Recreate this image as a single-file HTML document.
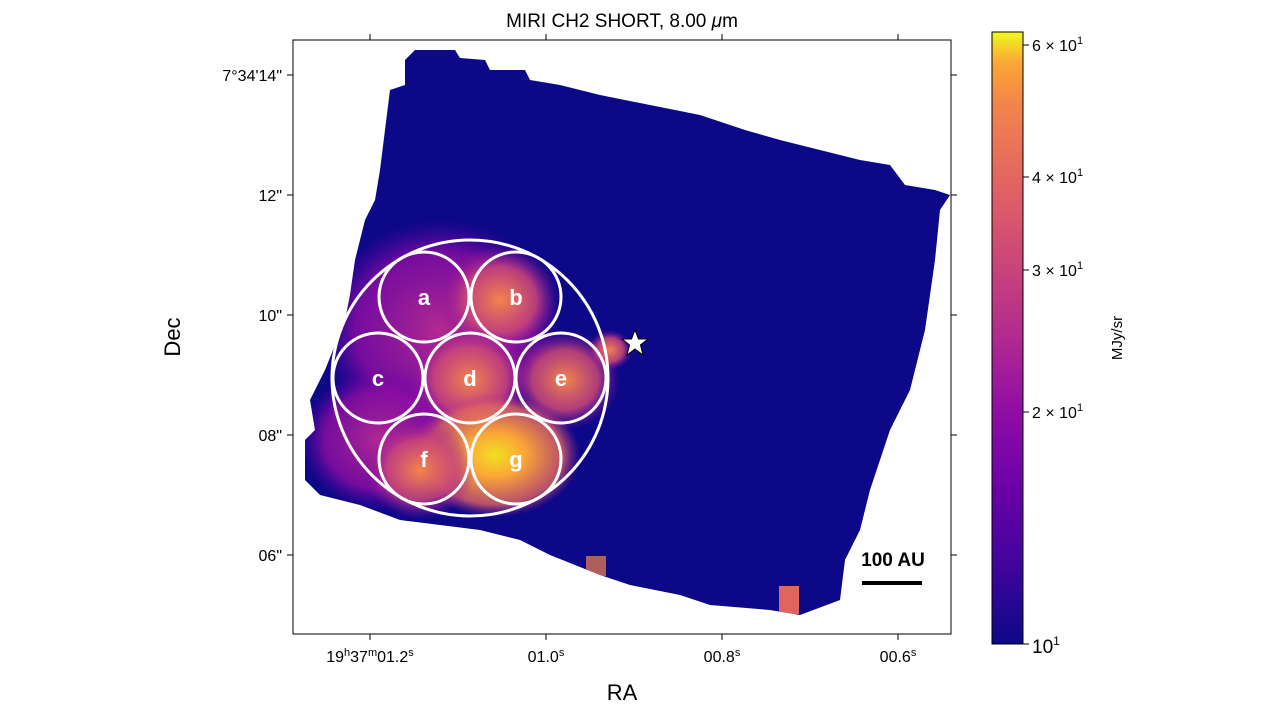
<!DOCTYPE html>
<html><head><meta charset="utf-8"><style>
body{margin:0;background:#fff;width:1279px;height:720px;overflow:hidden;font-family:"Liberation Sans","DejaVu Sans",sans-serif}
</style></head><body>
<svg width="1279" height="720" viewBox="0 0 1279 720" xmlns="http://www.w3.org/2000/svg" font-family="Liberation Sans, DejaVu Sans, sans-serif">
<defs>
<linearGradient id="cb" x1="0" y1="1" x2="0" y2="0">
<stop offset="0" stop-color="#0d0887"/><stop offset="0.13" stop-color="#41049d"/><stop offset="0.25" stop-color="#6a00a8"/><stop offset="0.38" stop-color="#8f0da4"/><stop offset="0.5" stop-color="#b12a90"/><stop offset="0.63" stop-color="#cc4778"/><stop offset="0.75" stop-color="#e16462"/><stop offset="0.88" stop-color="#f2844b"/><stop offset="0.95" stop-color="#fca636"/><stop offset="1" stop-color="#f0f921"/>
</linearGradient>
<radialGradient id="g1" cx="0.5" cy="0.5" r="0.5"><stop offset="0" stop-color="#f0e020"/><stop offset="0.35" stop-color="#fca636"/><stop offset="0.8" stop-color="#e16462" stop-opacity="0.8"/><stop offset="1" stop-color="#b12a90" stop-opacity="0"/></radialGradient>
<radialGradient id="g2" cx="0.5" cy="0.5" r="0.5"><stop offset="0" stop-color="#f2844b"/><stop offset="0.6" stop-color="#cc4778" stop-opacity="0.85"/><stop offset="1" stop-color="#8f0da4" stop-opacity="0"/></radialGradient>
<radialGradient id="g3" cx="0.5" cy="0.5" r="0.5"><stop offset="0" stop-color="#b12a90"/><stop offset="0.7" stop-color="#8f0da4" stop-opacity="0.8"/><stop offset="1" stop-color="#6a00a8" stop-opacity="0"/></radialGradient>
<clipPath id="cp"><polygon id="poly" points="405,60 415,50 455,50 460,58 485,60 490,70 525,70 530,80 560,85 600,95 650,105 700,115 745,130 780,140 820,150 860,160 890,165 905,185 935,190 950,195 940,210 935,260 925,330 910,390 890,430 880,460 870,490 860,530 845,560 840,600 800,615 770,610 710,605 680,595 630,585 600,575 550,555 520,540 480,530 440,525 400,520 360,505 320,495 305,480 305,440 315,430 310,400 325,370 335,345 345,320 350,295 355,260 360,240 365,220 375,200 380,170 385,130 390,90 405,85"/></clipPath>
</defs>
<text x="622" y="27" font-size="19" text-anchor="middle">MIRI CH2 SHORT, 8.00 <tspan font-style="italic">μ</tspan>m</text>
<polygon fill="#0d0887" points="405,60 415,50 455,50 460,58 485,60 490,70 525,70 530,80 560,85 600,95 650,105 700,115 745,130 780,140 820,150 860,160 890,165 905,185 935,190 950,195 940,210 935,260 925,330 910,390 890,430 880,460 870,490 860,530 845,560 840,600 800,615 770,610 710,605 680,595 630,585 600,575 550,555 520,540 480,530 440,525 400,520 360,505 320,495 305,480 305,440 315,430 310,400 325,370 335,345 345,320 350,295 355,260 360,240 365,220 375,200 380,170 385,130 390,90 405,85"/>
<g clip-path="url(#cp)">
<ellipse cx="440" cy="330" rx="120" ry="110" fill="url(#g3)"/>
<ellipse cx="380" cy="440" rx="80" ry="70" fill="url(#g3)"/>
<ellipse cx="500" cy="300" rx="60" ry="55" fill="url(#g2)"/>
<ellipse cx="470" cy="380" rx="60" ry="55" fill="url(#g2)"/>
<ellipse cx="565" cy="380" rx="55" ry="50" fill="url(#g2)"/>
<ellipse cx="610" cy="350" rx="22" ry="20" fill="url(#g2)"/>
<ellipse cx="495" cy="455" rx="85" ry="62" fill="url(#g1)"/>
<ellipse cx="420" cy="470" rx="55" ry="50" fill="url(#g2)"/>
<rect x="779" y="586" width="20" height="28" fill="#e16462"/>
<rect x="586" y="556" width="20" height="20" fill="#f2844b" opacity="0.7"/>
</g>
<g fill="none" stroke="#fff" stroke-width="3">
<circle cx="470" cy="378" r="138"/>
<circle cx="424" cy="297" r="45"/><circle cx="516" cy="297" r="45"/>
<circle cx="378" cy="378" r="45"/><circle cx="470" cy="378" r="45"/><circle cx="561" cy="378" r="45"/>
<circle cx="424" cy="459" r="45"/><circle cx="516" cy="459" r="45"/>
</g>
<g fill="#fff" font-size="22" font-weight="bold" text-anchor="middle">
<text x="424" y="305">a</text><text x="516" y="305">b</text><text x="378" y="386">c</text><text x="470" y="386">d</text><text x="561" y="386">e</text><text x="424" y="467">f</text><text x="516" y="467">g</text>
</g>
<polygon points="635,330 638.5,339 648,339 640.5,345 643,355 635,349 627,355 629.5,345 622,339 631.5,339" fill="#fff" stroke="#000" stroke-width="1"/>
<text x="893" y="566" font-size="19" font-weight="bold" text-anchor="middle">100 AU</text>
<line x1="862" y1="583" x2="922" y2="583" stroke="#000" stroke-width="4"/>
<rect x="293" y="40" width="658" height="594" fill="none" stroke="#000" stroke-width="1"/>
<g stroke="#000" stroke-width="1">
<line x1="370" y1="634" x2="370" y2="640"/><line x1="546" y1="634" x2="546" y2="640"/><line x1="722" y1="634" x2="722" y2="640"/><line x1="898" y1="634" x2="898" y2="640"/>
<line x1="370" y1="40" x2="370" y2="34"/><line x1="546" y1="40" x2="546" y2="34"/><line x1="722" y1="40" x2="722" y2="34"/><line x1="898" y1="40" x2="898" y2="34"/>
<line x1="293" y1="75" x2="287" y2="75"/><line x1="293" y1="195" x2="287" y2="195"/><line x1="293" y1="315" x2="287" y2="315"/><line x1="293" y1="435" x2="287" y2="435"/><line x1="293" y1="555" x2="287" y2="555"/>
<line x1="951" y1="75" x2="957" y2="75"/><line x1="951" y1="195" x2="957" y2="195"/><line x1="951" y1="315" x2="957" y2="315"/><line x1="951" y1="435" x2="957" y2="435"/><line x1="951" y1="555" x2="957" y2="555"/>
</g>
<g font-size="16" text-anchor="end">
<text x="282" y="81">7°34'14"</text><text x="282" y="201">12"</text><text x="282" y="321">10"</text><text x="282" y="441">08"</text><text x="282" y="561">06"</text>
</g>
<g font-size="16" text-anchor="middle">
<text x="370" y="662">19<tspan font-size="11" dy="-6">h</tspan><tspan dy="6">37</tspan><tspan font-size="11" dy="-6">m</tspan><tspan dy="6">01.2</tspan><tspan font-size="11" dy="-6">s</tspan></text>
<text x="546" y="662">01.0<tspan font-size="11" dy="-6">s</tspan></text>
<text x="722" y="662">00.8<tspan font-size="11" dy="-6">s</tspan></text>
<text x="898" y="662">00.6<tspan font-size="11" dy="-6">s</tspan></text>
</g>
<text x="622" y="700" font-size="22" text-anchor="middle">RA</text>
<text x="180" y="337" font-size="22" text-anchor="middle" transform="rotate(-90 180 337)">Dec</text>
<rect x="992" y="32" width="31" height="612" fill="url(#cb)" stroke="#000" stroke-width="1"/>
<g stroke="#000"><line x1="1023" y1="45" x2="1029" y2="45"/><line x1="1023" y1="177" x2="1029" y2="177"/><line x1="1023" y1="270" x2="1029" y2="270"/><line x1="1023" y1="412" x2="1029" y2="412"/><line x1="1023" y1="644" x2="1029" y2="644"/></g>
<g font-size="16">
<text x="1032" y="51">6 × 10<tspan font-size="11" dy="-7">1</tspan></text>
<text x="1032" y="183">4 × 10<tspan font-size="11" dy="-7">1</tspan></text>
<text x="1032" y="276">3 × 10<tspan font-size="11" dy="-7">1</tspan></text>
<text x="1032" y="418">2 × 10<tspan font-size="11" dy="-7">1</tspan></text>
<text x="1032" y="653" font-size="19">10<tspan font-size="12" dy="-8">1</tspan></text>
</g>
<text x="1122" y="338" font-size="15" text-anchor="middle" transform="rotate(-90 1122 338)">MJy/sr</text>
</svg>
</body></html>
